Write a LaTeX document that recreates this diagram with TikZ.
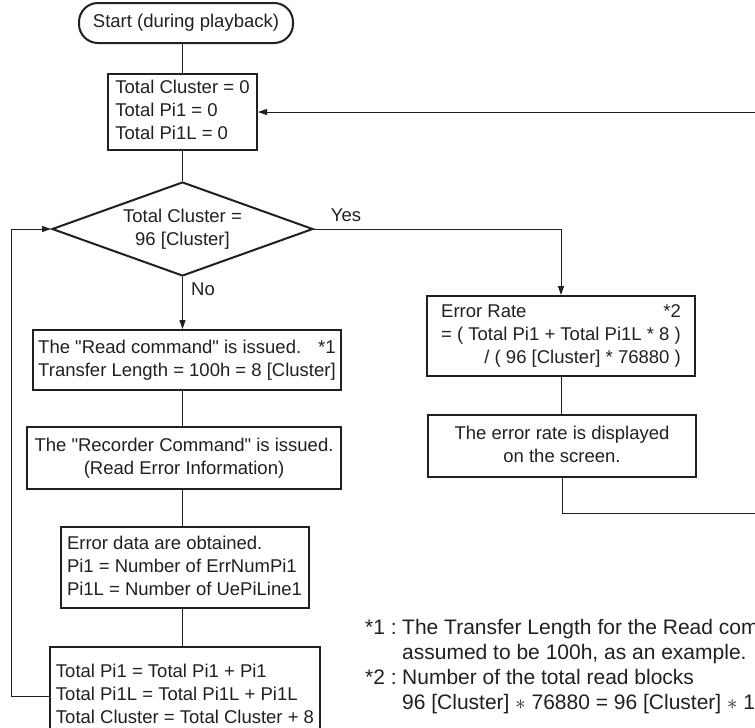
\documentclass[tikz,border=0pt]{standalone}
\usepackage{fontspec}
\setmainfont{Liberation Sans}[Ligatures=TeXOff]
\usetikzlibrary{shapes.geometric,arrows.meta}
\definecolor{ink}{HTML}{231F20}
\newcommand{\lines}[1]{\begin{tabular}{@{}l@{}}#1\end{tabular}}
\begin{document}
\begin{tikzpicture}[x=1pt,y=-1pt,
  every node/.style={text=ink, font=\fontsize{18.5}{23}\selectfont},
  box/.style={draw=ink, line width=2pt, rectangle, inner sep=0pt},
  term/.style={box, rounded corners=19pt},
  decision/.style={draw=ink, line width=2pt, diamond, inner sep=0pt, aspect=2.78},
  flow/.style={draw=ink, line width=1pt},
  arr/.style={flow, -{Triangle[length=9pt,width=6pt]}},
  lbl/.style={inner sep=0pt}]
\useasboundingbox (0,0) rectangle (755,728);
\clip (0,0) rectangle (755,728);

% main column
\node[term, minimum width=214pt, minimum height=40pt] (start) at (186,23) {Start (during playback)};
\node[box, minimum width=149pt, minimum height=76pt] (init) at (182.5,112)
  {\lines{Total Cluster = 0\\Total Pi1 = 0\\Total Pi1L = 0}};
\node[decision, minimum width=261pt, minimum height=94pt] (test) at (182.5,229)
  {\begin{tabular}{@{}c@{}}Total Cluster =\\96 [Cluster]\end{tabular}};
\node[box, minimum width=308pt, minimum height=60pt] (read) at (187,360)
  {\lines{The "Read command" is issued.\hfill*1\\Transfer Length = 100h = 8 [Cluster]}};
\node[box, minimum width=314pt, minimum height=62pt] (rec) at (184,458)
  {\begin{tabular}{@{}c@{}}The "Recorder Command" is issued.\\(Read Error Information)\end{tabular}};
\node[box, minimum width=248pt, minimum height=81pt] (data) at (184.5,567.5)
  {\lines{Error data are obtained.\\Pi1 = Number of ErrNumPi1\\Pi1L = Number of UePiLine1}};
\node[box, minimum width=270pt, minimum height=98pt] (sum) at (185,696)
  {\lines{Total Pi1 = Total Pi1 + Pi1\\Total Pi1L = Total Pi1L + Pi1L\\Total Cluster = Total Cluster + 8}};

% right column
\node[box, minimum width=268pt, minimum height=80pt] (rate) at (561,336)
  {\lines{Error Rate\hfill*2\\= ( Total Pi1 + Total Pi1L * 8 )\\\hfill/ ( 96 [Cluster] * 76880 )}};
\node[box, minimum width=268pt, minimum height=62pt] (disp) at (562,446)
  {\begin{tabular}{@{}c@{}}The error rate is displayed\\on the screen.\end{tabular}};

% branch labels
\node[lbl] (yes) at (346,215) {Yes};
\node[lbl] (no) at (203,289) {No};

% notes
\node[lbl, anchor=north west, font=\fontsize{21}{25}\selectfont] (notes) at (365,617)
  {\begin{tabular}{@{}l@{}l@{}}
   \makebox[37pt][l]{*1 :} & The Transfer Length for the Read command\\
   & assumed to be 100h, as an example.\\
   \makebox[37pt][l]{*2 :} & Number of the total read blocks\\
   & 96 [Cluster] $\ast$ 76880 = 96 [Cluster] $\ast$ 1
   \end{tabular}};

% loop coordinates
\coordinate (lp) at (11,0);
\coordinate (rl) at (775,513);

% connectors
\draw[flow] (start.south -| init.north) -- (init.north);
\draw[flow] (init.south) -- (test.north);
\draw[arr] (test.south) -- (test.south |- read.north);
\draw[flow] (test.south |- read.south) -- (test.south |- rec.north);
\draw[flow] (test.south |- rec.south) -- (test.south |- data.north);
\draw[flow] (test.south |- data.south) -- (test.south |- sum.north);
\draw[arr] (sum.west) -- (sum.west -| lp) |- (test.west);
\draw[arr] (test.east) -| (rate.north);
\draw[flow] (rate.south) -- (rate.south |- disp.north);
\draw[arr] (disp.south) |- (rl) |- (init.east);
\end{tikzpicture}
\end{document}
